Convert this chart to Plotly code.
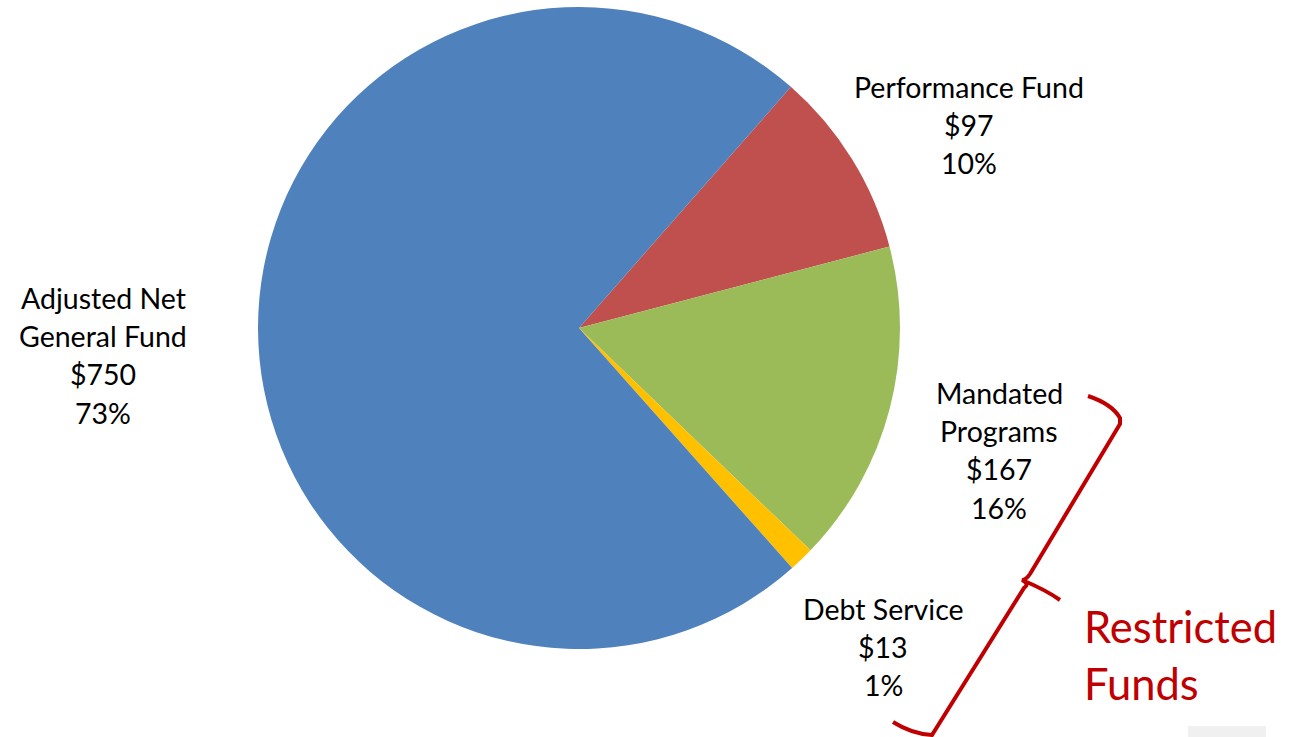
import plotly.graph_objects as go

# Fund breakdown ($ millions)
categories = ["Performance Fund", "Mandated Programs", "Debt Service", "Adjusted Net General Fund"]
label_lines = [["Performance Fund"], ["Mandated", "Programs"], ["Debt Service"], ["Adjusted Net", "General Fund"]]
values = [97, 167, 13, 750]
pct_labels = ["10%", "16%", "1%", "73%"]
colors = ["#C0504D", "#9BBB59", "#FFC000", "#4F81BD"]

W, H = 1301, 737
FONT = "Lato"

fig = go.Figure()

fig.add_trace(go.Pie(
    labels=categories,
    values=values,
    sort=False,
    direction="clockwise",
    rotation=41.3,
    marker=dict(colors=colors, line=dict(width=0)),
    textinfo="none",
    hoverinfo="label+value",
    showlegend=False,
    domain=dict(x=[(579 - 321) / W, (579 + 321) / W], y=[1 - 649 / H, 1 - 7 / H]),
))

# invisible pixel-space axes for labels and the brace
fig.add_trace(go.Scatter(x=[0, W], y=[0, H], mode="markers",
                         marker=dict(opacity=0), hoverinfo="skip", showlegend=False))

label_pos = [(969, 87), (999, 393), (883, 609), (103, 298)]
for lines, val, pct, (cx, top) in zip(label_lines, values, pct_labels, label_pos):
    all_lines = lines + ["$" + str(val), pct]
    for i, t in enumerate(all_lines):
        fig.add_annotation(x=cx, y=top + i * 38.2, xref="x", yref="y", text=t,
                           showarrow=False, xanchor="center", yanchor="middle",
                           font=dict(family=FONT, size=28.5, color="#000000"))

# bracket grouping the restricted funds
brace = ("M 1088 396 Q 1112 404 1120 418 L 1120 424 L 1030 574 Q 1026 580 1022 580 "
         "Q 1046 590 1060 600 M 1022 580 Q 1030 584 1024 588 L 932 735 Q 912 734 893 722")
fig.add_shape(type="path", path=brace, xref="x", yref="y",
              line=dict(color="#C00000", width=4))

for i, t in enumerate(["Restricted", "Funds"]):
    fig.add_annotation(x=1082, y=626 + i * 57, xref="x", yref="y", text=t,
                       showarrow=False, xanchor="left", yanchor="middle",
                       font=dict(family=FONT, size=43.5, color="#C00000"))

fig.add_shape(type="rect", x0=1188, x1=1266, y0=726, y1=737, xref="x", yref="y",
              line=dict(width=0), fillcolor="#F0F0F0", layer="below")

fig.update_layout(
    width=W, height=H,
    margin=dict(l=0, r=0, t=0, b=0),
    paper_bgcolor="white", plot_bgcolor="rgba(0,0,0,0)",
    xaxis=dict(range=[0, W], visible=False, fixedrange=True),
    yaxis=dict(range=[H, 0], visible=False, fixedrange=True),
)

fig.write_html("out.html")
